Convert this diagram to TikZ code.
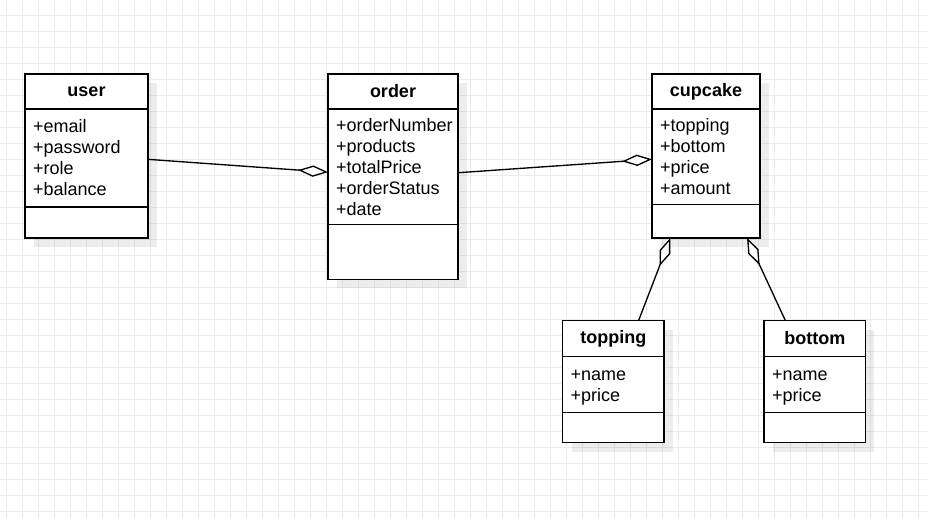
\documentclass[tikz,border=0pt]{standalone}
\usepackage{fontspec}
\setmainfont{Liberation Sans}
\usetikzlibrary{positioning,calc,arrows.meta,shadows}

\begin{document}
\begin{tikzpicture}[x=0.75pt, y=-0.75pt,
    every node/.style = {font=\fontsize{13.5pt}{15.75pt}\selectfont},
    gridline/.style = {black!8, line width=0.75pt},
    classbox/.style = {draw, fill=white, line width=1.1pt, inner sep=0pt, outer sep=0pt,
        drop shadow={shadow xshift=6.75pt, shadow yshift=-6.75pt, fill=black, opacity=0.07}},
    classname/.style = {classbox, font=\fontsize{13.5pt}{15.75pt}\selectfont\bfseries, minimum height=26.25pt},
    classattr/.style = {classbox, align=left, inner xsep=6pt},
    classops/.style = {classbox},
    aggr/.style = {line width=1pt, -{Diamond[fill=white, length=22.5pt, width=8.5pt]}}]

    \useasboundingbox (0,0) rectangle (927,518);

    % background grid
    \foreach \i in {0,...,57}
        \draw[gridline] (6.7+16*\i,0) -- (6.7+16*\i,518);
    \foreach \j in {0,...,31}
        \draw[gridline] (0,15.3+16*\j) -- (927,15.3+16*\j);

    % classes
    \node[classname, minimum width=92.25pt] (user) at (86.5,91.5) {user};
    \node[classattr, below=0pt of user, text width=80.25pt, minimum height=73.5pt] (user-a)
        {+email\\+password\\+role\\+balance};
    \node[classops, below=0pt of user-a, minimum width=92.25pt, minimum height=23.25pt] (user-m) {};

    \node[classname, minimum width=97.5pt] (order) at (393,91.5) {order};
    \node[classattr, below=0pt of order, text width=85.5pt, minimum height=86.6pt] (order-a)
        {+orderNumber\\+products\\+totalPrice\\+orderStatus\\+date};
    \node[classops, below=0pt of order-a, minimum width=97.5pt, minimum height=41.25pt] (order-m) {};

    \node[classname, minimum width=81pt] (cupcake) at (706,91.5) {cupcake};
    \node[classattr, below=0pt of cupcake, text width=69pt, minimum height=71.6pt] (cupcake-a)
        {+topping\\+bottom\\+price\\+amount};
    \node[classops, below=0pt of cupcake-a, minimum width=81pt, minimum height=25.1pt] (cupcake-m) {};

    \node[classname, minimum width=76.1pt, minimum height=27pt] (topping) at (613.25,338.5) {topping};
    \node[classattr, below=0pt of topping, text width=64.1pt, minimum height=42pt, text depth=14pt] (topping-a)
        {+name\\+price};
    \node[classops, below=0pt of topping-a, minimum width=76.1pt, minimum height=22.5pt] (topping-m) {};

    \node[classname, minimum width=76.1pt, minimum height=27pt] (bottom) at (814.75,338.5) {bottom};
    \node[classattr, below=0pt of bottom, text width=64.1pt, minimum height=42pt, text depth=14pt] (bottom-a)
        {+name\\+price};
    \node[classops, below=0pt of bottom-a, minimum width=76.1pt, minimum height=22.5pt] (bottom-m) {};

    % aggregations
    \draw[aggr] ([yshift=-1pt]user-a.east) -- ([yshift=-4.1pt]order-a.west);
    \draw[aggr] ([yshift=-4.5pt]order-a.east) -- ([yshift=-1.9pt]cupcake-a.west);
    \draw[aggr] ($(topping.north west)!0.75!(topping.north east)$)
        -- ($(cupcake-m.south west)!0.17!(cupcake-m.south east)$);
    \draw[aggr] ($(bottom.north west)!0.21!(bottom.north east)$)
        -- ($(cupcake-m.south west)!0.88!(cupcake-m.south east)$);
\end{tikzpicture}
\end{document}
